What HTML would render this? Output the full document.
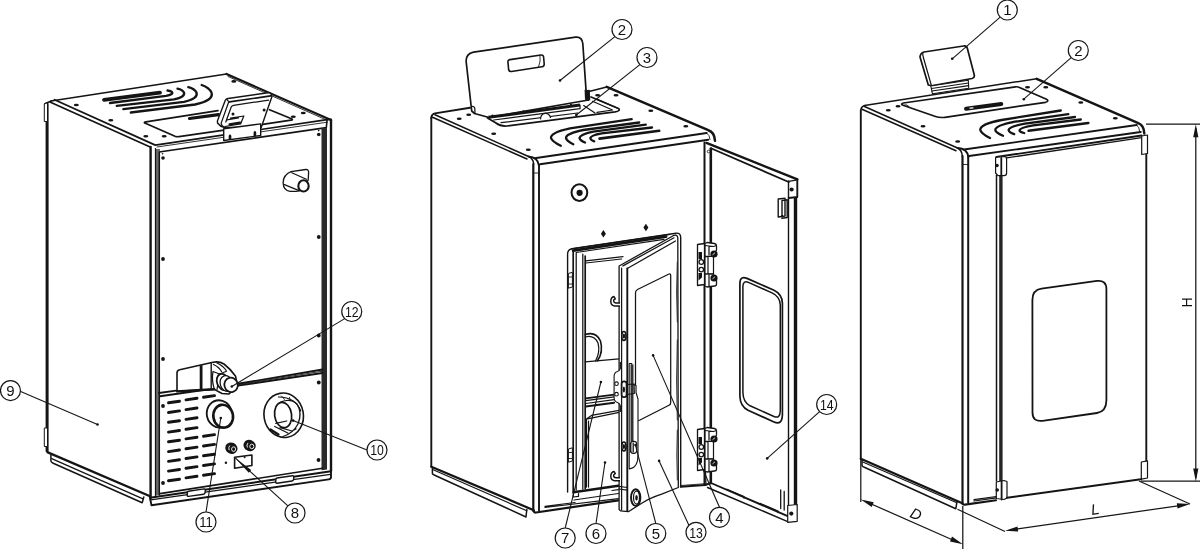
<!DOCTYPE html>
<html><head><meta charset="utf-8"><title>Parts diagram</title>
<style>
html,body{margin:0;padding:0;background:#fff;}
body{width:1200px;height:549px;overflow:hidden;}
svg{display:block;will-change:transform;}
.k{fill:none;stroke:#141414;stroke-width:1.9;stroke-linecap:round;stroke-linejoin:round;}
.m{fill:none;stroke:#141414;stroke-width:1.25;stroke-linecap:round;stroke-linejoin:round;}
.t{fill:none;stroke:#1c1c1c;stroke-width:.9;stroke-linecap:round;stroke-linejoin:round;}
.w{fill:#fff;stroke:#141414;stroke-width:1.4;stroke-linejoin:round;}
.b{fill:#141414;stroke:none;}
.v{fill:none;stroke:#141414;stroke-width:2.3;stroke-linecap:round;}
.s{fill:none;stroke:#141414;stroke-width:2.9;stroke-linecap:round;}
.bl circle{fill:#fff;stroke:#161616;stroke-width:1.2;}
.bl text,.dim text{font-family:"Liberation Sans",sans-serif;font-size:15px;fill:#111;text-anchor:middle;}
.ld{fill:none;stroke:#161616;stroke-width:1.1;}
</style></head>
<body>
<svg width="1200" height="549" viewBox="0 0 1200 549">
<rect width="1200" height="549" fill="#fff"/>

<!-- ================= FIG 1 ================= -->
<g id="fig1">
<!-- top plate -->
<path class="k" d="M51 101 L226.500 74" style="stroke-width:1.400"/>
<path class="k" d="M226.500 74 L331 120" style="stroke-width:2.200"/>
<path class="t" d="M228 76.500 L326 119.800"/>
<path class="k" d="M50.500 102.300 L149.600 146.800" style="stroke-width:1.700"/>
<path class="k" d="M54.500 99.700 L155.300 145.100 L327.100 119.700 L331 119.300" style="stroke-width:1.700"/>
<path class="t" d="M157 147 L327.100 122.200"/>
<path class="k" d="M157.400 152.300 L326.300 127.600 L327.100 119.700" style="stroke-width:1.600"/>
<!-- left side panel -->
<path class="k" d="M47.100 104 V451" style="stroke-width:3"/>
<path class="k" style="stroke-width:1.600" d="M44.800 103.700 L51.200 100.900"/>
<path class="w" style="stroke-width:1" d="M44.300 104 L47.500 102.800 V121.500 H44.300 Z M44.300 428 H47.500 V446.500 H44.300 Z"/>
<!-- front-left post -->
<path class="k" d="M150.600 147 V498" style="stroke-width:2.400"/>
<path d="M155 149 H160 V494.500 L155 495.500 Z" fill="#6a6a6a"/>
<path class="m" d="M155.500 148.500 V497"/>
<path class="k" d="M159.300 152 V495" style="stroke-width:1.500"/>
<!-- right post -->
<path class="k" d="M331 120 V471" style="stroke-width:2.400"/>
<path d="M321.500 128.500 L327 127.700 V469.500 L321.500 470.300 Z" fill="#2a2a2a"/>
<!-- side bottom + skirt -->
<path class="k" d="M47.800 452.400 L149.500 496" style="stroke-width:2.400"/>
<path class="k" d="M50.900 455 V461 Q51 462.300 53.200 463.300 L142.200 502.800 L143.800 497" style="stroke-width:1.500"/>
<path class="m" d="M51.700 458.600 L143 498.900"/>
<!-- base front -->
<path class="k" d="M149.900 497.700 L331 471.200 V476.500 Q331.300 479 328.700 479.400 L151.500 505.200 Z"/>
<path class="m" d="M150.700 499.900 L330.400 474.400"/>
<path class="k" style="stroke-width:1.600" d="M160 493.600 L322.500 468.300"/>
<path class="w" style="stroke-width:1.400" d="M188.500 491.200 L204 488.900 Q205.500 489 205.300 490.500 L205 492.800 Q204.800 494 203.500 494.200 L188.500 496.400 Q187 496.400 187.200 495 L187.400 492.500 Q187.500 491.400 188.500 491.200 Z M277 478 L292.500 475.700 Q294 475.800 293.800 477.300 L293.500 479.600 Q293.300 480.800 292 481 L277 483.200 Q275.500 483.200 275.700 481.800 L275.900 479.300 Q276 478.200 277 478 Z"/>
<!-- divider -->
<path class="k" d="M159 393 L176 390.600 M238 383.800 L322.5 369.500"/>
<path class="k" d="M160 396.300 L214 388.500 M238 385.600 L322.5 373"/>
<path class="t" d="M238 384.700 L322.5 371.200"/>

<!-- top plate details fig1 -->
<g class="b">
<ellipse cx="76.300" cy="105" rx="2.500" ry="1.300"/><ellipse cx="110.800" cy="120.300" rx="2.500" ry="1.300"/>
<ellipse cx="145.800" cy="136.200" rx="2.500" ry="1.300"/><ellipse cx="164.200" cy="136.200" rx="2.500" ry="1.300"/>
<ellipse cx="233.800" cy="81.400" rx="2.500" ry="1.300"/><ellipse cx="303.250" cy="113" rx="2.500" ry="1.300"/>
<ellipse cx="293.300" cy="116.700" rx="2.500" ry="1.300"/>
<circle cx="163" cy="158" r="1.800"/><circle cx="162.600" cy="153.800" r=".8"/>
<circle cx="318.750" cy="134.500" r="1.800"/><circle cx="318.700" cy="130.600" r=".8"/>
<circle cx="163" cy="259" r="1.900"/><circle cx="163" cy="359" r="1.900"/><circle cx="163" cy="406" r="1.900"/>
<circle cx="318.750" cy="335.500" r="1.900"/><circle cx="318.750" cy="382.500" r="1.900"/><circle cx="318.750" cy="237" r="1.900"/>
<circle cx="163" cy="483" r="1.900"/><circle cx="318.500" cy="460" r="1.900"/>
</g>
<!-- vent slots -->
<path class="v" d="M104 99.800 L160 92.700" style="stroke-width:3.800"/>
<path class="v" d="M110 103 L166 95.800 Q173.500 94.500 172 92 Q171 90.800 167.500 90.500"/>
<path class="v" d="M116.700 105.800 L174 99.300 Q185.500 97 184 92.500 Q182.500 89.800 177.500 88.700"/>
<path class="v" d="M123.300 109.200 L184 101.800 Q198.500 98.500 196.500 92.500 Q194.500 88.800 188.300 87.200"/>
<path class="v" d="M130.800 112.500 L195 104.500 Q214 100.500 211.500 92.500 Q209 87.500 201.700 85"/>
<!-- hopper lid -->
<path class="k" style="stroke-width:1.700" d="M146 121.800 L218 110.600 M144.800 123 Q143.600 122.200 146 121.800 M144.800 123 L175 136.300 Q176.700 137 179 136.600 L224 130.200 M261 124.700 L291 120.200 Q293.500 119.700 291.500 118.800 L269.500 109.700"/>
<path class="s" d="M189.500 118.500 L218.500 114.600" style="stroke-width:3.200"/>
<!-- display -->
<path class="w" d="M225.300 100.300 Q226 98.800 228 98.500 L268 92.800 Q272 92.600 271.800 97 L261.200 127.600 L224 127.200 Q220 126.500 218 123.500 Q217 122 217.600 120.500 Z" style="stroke-width:1.400"/>
<path class="k" d="M229.500 101.800 L270.700 95.900" style="stroke-width:1.700"/>
<path class="m" d="M226.900 99.500 Q228 101.500 229.500 101.800 M228.500 102.500 L221.100 123.400 Q221.500 125.500 223.700 127"/>
<path class="m" d="M225.800 122 L231.200 107 Q231.800 105.600 233.500 105.300 L268.600 100.100"/>
<path class="m" d="M230.600 118.100 L243.800 116 L240.600 123.900 L224.800 126.500 M226.900 119.900 L238.500 118"/>
<path class="s" d="M229.500 124.300 L240 122.600" style="stroke-width:2.200"/>
<circle class="b" cx="233" cy="113.900" r="1.500"/><circle class="b" cx="264.100" cy="109.900" r="1.500"/>
<!-- bracket -->
<path class="w" d="M223.700 128.700 L260.700 123.900 L260.700 135.500 L223.700 140.500 Z"/>
<path class="b" d="M230 134.300 q1.800 1 1.300 3 v2.200 h-2.600 v-2.200 q-.5 -2 1.300 -3 z M254.900 130.700 q1.800 1 1.300 3 v2.200 h-2.600 v-2.200 q-.5 -2 1.300 -3 z"/>
<!-- lower panel fig1 -->
<path class="s" d="M168.500 402.8 l11 -1.600 M186 399.9 l11 -1.600 M203.500 397.2 l11 -1.600 M168.500 412.5 l11 -1.600 M186 409.6 l11 -1.600 M168.500 422.3 l11 -1.600 M186 419.4 l11 -1.600 M168.500 432.1 l11 -1.600 M186 429.2 l11 -1.600 M168.500 441.8 l11 -1.600 M186 438.9 l11 -1.600 M203.500 436.2 l11 -1.600 M168.500 451.6 l11 -1.600 M186 448.7 l11 -1.600 M203.500 446.0 l11 -1.600 M168.500 461.4 l11 -1.600 M186 458.5 l11 -1.600 M203.500 455.8 l11 -1.600 M168.500 471.1 l11 -1.600 M186 468.2 l11 -1.600 M203.500 465.5 l11 -1.600 M168.500 480.8 l11 -1.600 M186 477.9 l11 -1.600 M203.500 475.2 l11 -1.600"/>
<!-- actuator box + valve -->
<path class="w" style="stroke-width:1.600" d="M177 391.200 V373 Q177 370.300 179.700 369.800 L213 362.300 Q219 361 224 364 Q230 368.500 235.600 376.300 L237.500 386 L229 394 L222 393.500 L214.300 389.400 Z"/>
<path class="k" d="M201.100 365.200 V390" style="stroke-width:2.800;stroke-linecap:butt"/>
<path class="k" d="M211.200 363 V389" style="stroke-width:1.400"/>
<path class="k" d="M177 391.400 L214.300 389.200" style="stroke-width:2.400"/>
<path class="m" d="M213.500 364.500 Q219 367 221.500 371.500 M217 363 Q223 365.500 226.500 371 M213 371.500 L219.500 374 L226 371.500 M219.500 374 L217 389.500 M213 371.500 Q211.500 380 214 388"/>
<ellipse class="w" cx="223" cy="382" rx="6" ry="8.300" transform="rotate(-20 223 382)" style="stroke-width:1.800"/>
<ellipse class="w" cx="226.500" cy="383.500" rx="6.300" ry="8" transform="rotate(-18 226.500 383.500)" style="stroke-width:1.300"/>
<ellipse class="w" cx="231.100" cy="384.900" rx="6.700" ry="7.300" transform="rotate(-15 231.100 384.900)" style="stroke-width:1.800"/>
<!-- circle 11 -->
<ellipse class="w" cx="219.300" cy="413.900" rx="12.500" ry="13.700" transform="rotate(-12 219.300 413.900)" style="stroke-width:1.800"/>
<ellipse class="w" cx="223.200" cy="416.200" rx="9.800" ry="11.500" transform="rotate(-10 223.200 416.200)" style="stroke-width:2.600"/>
<!-- circle 10 -->
<ellipse class="w" cx="283.700" cy="415.300" rx="19.700" ry="22.300" transform="rotate(-10 283.700 415.300)" style="stroke-width:1.600"/>
<path class="m" d="M278.500 397 Q296 397.500 300.700 411"/>
<ellipse class="w" cx="283.100" cy="415" rx="8.500" ry="12.700" transform="rotate(-8 283.100 415)" style="stroke-width:1.700"/>
<path class="m" d="M281 401.800 Q291 398 297 404 Q302.500 413 298 424 Q293 433.500 283 436.500 M275.800 423.300 L286.700 421 M274.700 426.500 L287.800 433 M280 427.600 L292 431 L296 429"/>
<path class="s" d="M270.500 429.500 L278.500 434.500" style="stroke-width:2.200"/>
<path class="t" d="M281.500 396 l3 3.500 M289.500 397.500 l.8 3"/>
<!-- fittings -->
<g><ellipse class="b" cx="231.4" cy="448.2" rx="6.200" ry="5.600" transform="rotate(25 231.4 448.2)"/><ellipse cx="233.6" cy="449.09999999999997" rx="2" ry="2.300" fill="none" stroke="#fff" stroke-width=".9"/><path d="M229.8 445.59999999999997 q-1.800 2 -.6 4.600" fill="none" stroke="#fff" stroke-width=".9"/><ellipse class="b" cx="249.6" cy="445.5" rx="6.200" ry="5.600" transform="rotate(25 249.6 445.5)"/><ellipse cx="251.79999999999998" cy="446.4" rx="2" ry="2.300" fill="none" stroke="#fff" stroke-width=".9"/><path d="M248.0 442.9 q-1.800 2 -.6 4.600" fill="none" stroke="#fff" stroke-width=".9"/></g>
<!-- plate 8 -->
<path class="k" style="stroke-width:1.600" d="M234.600 457.300 L251.900 455 V465.500 L234.600 468.200 Z"/>
<circle class="b" cx="225.900" cy="462.800" r="1.200"/><circle class="b" cx="244.600" cy="457.300" r="1"/>
<!-- pipe stub -->
<path class="w" d="M291.100 171.700 L305.700 169.500 Q308.800 169.300 308.600 172.400 L308.200 180 L299.500 190.800 Q295 191.600 290 191.400 Q283.500 190.500 283.100 183 Q283 175 291.100 171.700 Z" style="stroke-width:1.300"/>
<path class="m" d="M291.800 172.700 L306.400 179.300 M283.800 184.400 L299.100 190.600"/>
<ellipse cx="303.500" cy="185.900" rx="5.200" ry="5.600" fill="#fff" stroke="#141414" stroke-width="2.100"/>
</g>

<!-- ================= FIG 2 ================= -->
<g id="fig2">
<!-- open lid -->
<path class="w" d="M471.700 111 L466.200 62 Q465.500 54 473.500 52.200 L575.500 37.200 Q582 36.500 582.800 43.500 L586.500 97 L588.500 100 L489 117.500 L474.500 113.500 Z" style="stroke-width:1.700"/>
<path class="m" style="stroke-width:1.600" d="M508 62.500 Q507.500 60 510 59.600 L541 55 Q543.300 54.800 543.600 57 L544.200 64 Q544.300 66.300 542 66.700 L511.500 71.500 Q509 71.800 508.600 69.500 Z"/>
<path class="t" d="M540 55.200 Q541 61 538.500 67.200"/>
<path class="m" d="M471.700 106.500 Q474.500 106 474.800 108.500 L475 113.500 M585.200 90 L585.600 99 Q587.500 101 589.300 99 L588.800 90.500"/>
<!-- top plate -->
<path class="k" d="M431.300 118 Q431.300 114.400 435 113.400 L470 107.800"/>
<path class="k" d="M589 91.500 L606.700 86.900" style="stroke-width:1.500"/>
<path class="k" d="M606.700 86.900 L708.300 130.200 Q714.500 132 715 140.800" style="stroke-width:2.500"/>
<path class="k" d="M435 114.800 L528.500 156.500 Q533.300 158.500 533.700 164" style="stroke-width:1.500"/>
<path class="k" style="stroke-width:1.500" d="M432.500 117.200 L527 159"/>
<path class="t" d="M533.300 173 h5.700"/>
<path class="k" d="M528.500 156.500 Q538 157.500 538.700 165"/>
<path class="k" d="M534.500 158.200 L706.700 133"/>
<path class="k" d="M540 164.200 L708.300 139.700"/>
<path class="t" d="M706.700 133 Q710 135 710 139.500"/>
<!-- left edge, corner post, right post -->
<path class="k" d="M431.300 118 V466.500"/>
<path class="k" d="M533.300 164 V511" style="stroke-width:2.200"/>
<path class="k" d="M539 165 V510.500"/>
<path class="k" d="M704.500 142.500 V485" style="stroke-width:2"/>
<path class="k" d="M710.800 148.500 V483" style="stroke-width:2.600"/>
<!-- left skirt -->
<path class="k" d="M431.300 466.700 L533.800 510.200" style="stroke-width:2.300"/>
<path class="k" d="M432.400 468 V473.500 Q432.600 474.600 434.700 475.200 L526 517 L526.800 509.500" style="stroke-width:1.500"/>
<path class="m" d="M433.200 469.800 L526.800 510.800"/>
<!-- front bottom -->
<path class="k" d="M533.700 511 Q534 512.800 536 512.500 L618.300 500.300" style="stroke-width:2.200"/>
<path class="m" d="M545 507.500 L618.300 498.600 M545 506.300 L575 502.500"/>
<path class="k" d="M680.700 486.800 L705 485"/>
<path class="t" d="M681 485.500 L704 483.800"/>
<!-- screws on top -->
<g class="b">
<ellipse cx="459.200" cy="118.700" rx="2.500" ry="1.300"/><ellipse cx="468.700" cy="114.700" rx="2.500" ry="1.300"/>
<ellipse cx="493.700" cy="133.800" rx="2.500" ry="1.300"/><ellipse cx="528.300" cy="149.700" rx="2.500" ry="1.300"/>
<ellipse cx="597.600" cy="95.200" rx="2.500" ry="1.300"/><ellipse cx="616" cy="95.300" rx="2.500" ry="1.300"/>
<ellipse cx="650.800" cy="110.800" rx="2.500" ry="1.300"/><ellipse cx="685.800" cy="126.300" rx="2.500" ry="1.300"/>
</g>
<!-- hopper opening -->
<path class="s" d="M488.500 117.300 L580 105" style="stroke-width:3;stroke-linecap:butt"/>
<path class="k" style="stroke-width:1.700" d="M487.500 118 L496 123 Q500.500 126.600 507 126 L615 111.900 Q621 110.800 618.500 108.500 L591 97"/>
<path class="m" d="M493.700 120 L580 108.700 M501 122.700 L577.500 113 M580 105 V108.700 M583.700 105.600 L595 113 M592.500 101.300 L612.500 110 L597 112.400 M597.500 99.400 L617 108"/>
<path class="w" d="M540.600 119.400 A5 5.300 0 0 1 550.600 118" style="stroke-width:1.200"/>
<g class="b"><circle cx="492.500" cy="115.600" r="1.100"/><circle cx="523.500" cy="111.300" r="1.100"/><circle cx="540" cy="109" r="1.100"/><circle cx="571" cy="104.800" r="1.100"/></g>
<path class="k" d="M587.600 90 L588.300 100.500" style="stroke-width:4;stroke-linecap:butt"/>
<!-- vent (mirrored) -->
<path class="v" d="M560.800 145.800 Q552 141.500 551 138 Q550.500 132.500 570 128.300 L631.700 119.200"/>
<path class="v" d="M573.300 144.200 Q566.500 141 566 138 Q566 133.500 583.300 130 L639.200 122.500"/>
<path class="v" d="M585 142.500 Q580 140.500 579.500 138 Q580 134.500 593.300 131.700 L645.800 124.700"/>
<path class="v" d="M594.200 141.300 Q590.500 140 590.300 138 Q591 135.200 601.700 133.300 L652 127.500"/>
<path class="v" d="M599.500 138.600 L659.200 130.800" style="stroke-width:2.600"/>

<!-- firebox frame -->
<path class="k" d="M567.600 492 V254 Q567.600 249.700 572 248.800 L676 233.200 Q680.700 232.800 680.700 237.500 V486.800" style="stroke-width:1.400"/>
<path class="k" d="M573.200 491 V251" style="stroke-width:1.700"/>
<path class="k" d="M573.200 250.600 L666 236.600" style="stroke-width:2.800"/>
<path class="m" d="M571.500 248.900 L670 234.300 M576.200 252.500 V490 M576.200 252.500 L664 239.300"/>
<path class="k" d="M585.200 256 V488.500" style="stroke-width:1.700"/>
<path class="m" d="M582.800 254 V489"/>
<path class="m" d="M585.800 260.900 L623 256.600 M585.800 263 L621.500 259"/>
<!-- latches on left frame -->
<path class="w" d="M568.400 273.500 L572.400 272.300 V287 L568.400 288.200 Z M568.400 449 L572.400 447.800 V461 L568.400 462.200 Z" style="stroke-width:1"/>
<path class="t" d="M568.400 277 h4 M568.400 284 h4 M568.400 452.500 h4 M568.400 458.500 h4"/>
<!-- firebox inside -->
<path class="k" style="stroke-width:1.600" d="M585.200 334.500 Q596 331 600.500 341 Q603.500 352 597.500 360.800"/>
<path class="m" d="M585.200 337 Q594 334.500 598 343 Q600.500 352 595.500 361"/>
<path class="m" d="M585.200 361.900 L619.100 358.800"/>
<path class="k" d="M585.800 398.400 L614.100 394.600 M585.800 406.500 L614.100 402.700"/>
<path class="m" d="M585.800 400.700 L614.100 396.900 M585.800 403.500 L614.100 399.700"/>
<path class="m" d="M586.400 419.100 L591.500 415.400 L619.100 410.300 M586.400 419.100 V487 M586.400 419.100 L619.100 412.300"/>
<path class="m" d="M588.500 421 V487"/>
<!-- frame bottom -->
<path class="k" d="M573.300 492.300 L618.300 485.800" style="stroke-width:2.500"/>
<path class="m" d="M573.300 493.300 V497 L578.500 496.300 V493.500 M612 490.500 L618.300 489.700 M574 500 L618.300 493.500"/>
<!-- inner door 13 -->
<path class="w" d="M619.100 509.500 V266 L673.200 235.700 Q677.500 234 677.800 238 L678.300 487.500 L661.700 494.200 Q650 498 641.700 503.300 L628.300 511.700 L620.500 510.800 Z" style="stroke-width:1.300"/>
<path class="k" d="M627.300 268.500 V511"/>
<path class="m" d="M621.600 268 V510 M622.900 265.900 L674 237.800 M627.300 268.500 L675.500 241"/>
<path class="t" d="M677.300 262 q-1.400 30 0 60 M677.300 340 q-1.400 40 0 80 M677.300 430 q-1 25 0 50"/>
<path class="m" d="M619.100 486.300 L627.300 487.500 M619.100 489 L627.300 490.200"/>
<!-- glass -->
<path class="m" d="M635.500 293 Q635.300 290.600 637.500 289.500 L668.500 274.200 Q670.700 273.200 670.700 275.500 V402.500 Q670.700 404.500 669 405.300 L640 420 Q635.500 422 635.500 417 Z"/>
<!-- hooks -->
<path class="w" d="M620 305.9 H614.500 Q610.600 305.4 610.800 301.1 Q611 297.2 614 296.6 L615.300 298.8 Q613.400 299.6 613.600 301.2 Q614 303.0 616 302.9 H620" style="stroke-width:1.500"/>
<path class="w" d="M620 480.7 H614.500 Q610.600 480.2 610.800 475.9 Q611 472.0 614 471.4 L615.300 473.6 Q613.400 474.4 613.600 476.0 Q614 477.8 616 477.7 H620" style="stroke-width:1.500"/>
<!-- bolts -->
<ellipse class="w" cx="623.900" cy="335.900" rx="2.100" ry="4.400" style="stroke-width:1.700"/><ellipse class="b" cx="623.900" cy="336" rx="1.200" ry="2.500"/>
<ellipse class="w" cx="623.900" cy="446.400" rx="2.100" ry="4.400" style="stroke-width:1.700"/><ellipse class="b" cx="623.900" cy="446.500" rx="1.200" ry="2.500"/>
<!-- handle plate -->
<path class="w" d="M620.400 362 V368.500 Q620 370.500 617.500 371.500 Q614.300 372.500 614.100 376 V398 Q614.300 401.500 617.500 402.500 Q620 403.500 620.400 406 V412" style="stroke-width:1.100"/>
<circle class="w" cx="616.500" cy="383.700" r="1.800" style="stroke-width:1.100"/><circle class="w" cx="616.500" cy="394.200" r="1.800" style="stroke-width:1.100"/>
<rect class="w" x="621.600" y="381.400" width="5" height="15.700" rx="2.400" style="stroke-width:1.800"/><ellipse class="b" cx="623.900" cy="389.500" rx="1.100" ry="3"/>
<path class="w" d="M629.200 363.500 H631.800 V384 L636 385.500 V392.500 L638 399 V455 Q638 468 629.200 469 Z" style="stroke-width:1.100"/>
<path class="k" d="M632 364.500 V441.500" style="stroke-width:3;stroke-linecap:butt;stroke:#333"/>
<path class="m" d="M627.300 384.500 L634 384 L634.300 393.500 L627.300 394.500"/>
<rect class="w" x="630.400" y="441.400" width="6.300" height="12" rx="2.800" style="stroke-width:1.100"/>
<path class="t" d="M632 443 V452 M633.500 443 V452"/>
<!-- knob 5 lower -->
<ellipse class="w" cx="635.700" cy="497.600" rx="4.700" ry="8.300" style="stroke-width:1.900"/>
<ellipse class="m" cx="636.500" cy="497.500" rx="3" ry="6.500"/><ellipse class="b" cx="636.500" cy="497.700" rx="1.300" ry="2.800"/>
<!-- hinges -->
<g transform="translate(0 0)">
<path class="w" d="M697.500 244.500 L704.500 243.500 V284.500 L697.500 285.500 Z" style="stroke-width:1.300"/>
<path class="b" d="M698.500 252 h3.500 v7 h-3.500 z"/>
<circle class="w" cx="701.300" cy="262" r="2.300" style="stroke-width:1.300"/><circle class="w" cx="701.300" cy="269.600" r="2.300" style="stroke-width:1.300"/>
<path class="b" d="M698.500 273 h3.500 v4.500 l-3.500 3 z"/>
<path class="w" d="M705 243.500 L707 242.500 L714.500 243.500 Q716.500 244 716.500 246 V250 L713 256.500 H705 Z" style="stroke-width:1.300"/>
<path class="m" d="M705 245.500 L713.500 246.500 L716.500 245.500 M709 246 V255"/>
<path class="w" d="M708 256.500 H713.500 V274 H708 Z" style="stroke-width:1.200"/>
<path class="w" d="M705 274 H713 L716.500 280 V284 Q716.500 286 714.500 286 L707 287 L705 286 Z" style="stroke-width:1.300"/>
<path class="m" d="M709 275 V286"/>
<circle class="b" cx="714" cy="254" r="3.600"/><circle class="b" cx="714" cy="278" r="3.600"/>
<path d="M712.500 254.800 l2.500 -2" stroke="#fff" stroke-width=".8"/><path d="M712.500 278.800 l2.500 -2" stroke="#fff" stroke-width=".8"/>
</g><g transform="translate(0 185)">
<path class="w" d="M697.500 244.500 L704.500 243.500 V284.500 L697.500 285.500 Z" style="stroke-width:1.300"/>
<path class="b" d="M698.500 252 h3.500 v7 h-3.500 z"/>
<circle class="w" cx="701.300" cy="262" r="2.300" style="stroke-width:1.300"/><circle class="w" cx="701.300" cy="269.600" r="2.300" style="stroke-width:1.300"/>
<path class="b" d="M698.500 273 h3.500 v4.500 l-3.500 3 z"/>
<path class="w" d="M705 243.500 L707 242.500 L714.500 243.500 Q716.500 244 716.500 246 V250 L713 256.500 H705 Z" style="stroke-width:1.300"/>
<path class="m" d="M705 245.500 L713.500 246.500 L716.500 245.500 M709 246 V255"/>
<path class="w" d="M708 256.500 H713.500 V274 H708 Z" style="stroke-width:1.200"/>
<path class="w" d="M705 274 H713 L716.500 280 V284 Q716.500 286 714.500 286 L707 287 L705 286 Z" style="stroke-width:1.300"/>
<path class="m" d="M709 275 V286"/>
<circle class="b" cx="714" cy="254" r="3.600"/><circle class="b" cx="714" cy="278" r="3.600"/>
<path d="M712.500 254.800 l2.500 -2" stroke="#fff" stroke-width=".8"/><path d="M712.500 278.800 l2.500 -2" stroke="#fff" stroke-width=".8"/>
</g>
<path class="m" d="M705.500 471.500 L706 485 M711 472 V483"/>
<!-- door 14 -->
<path class="k" d="M706.400 142.900 L797.400 179.400" style="stroke-width:2.300"/>
<path class="m" d="M788.700 181.300 L797.400 179.800"/>
<path class="k" d="M711.500 148.500 L788.700 182"/>
<path class="k" d="M795.500 197 V505" style="stroke-width:3.400;stroke-linecap:butt"/>
<path class="k" d="M788.500 181 V505" style="stroke-width:1.400"/>
<path class="k" d="M797.300 179.300 V197 L788.700 198"/>
<circle class="b" cx="791.600" cy="189.500" r="2.100"/>
<path class="w" d="M778.200 199 L785 198.200 V216 L778.200 217 Z M782 200.500 L787.200 199.800 V217.500 L782 218.300 Z" style="stroke-width:1.400"/>
<circle class="w" cx="708.500" cy="151.500" r="1.300" style="stroke-width:.8"/>
<!-- door 14 window -->
<path class="k" d="M739.900 396.300 V283 Q740.200 275.500 747 278.400 L773.500 290 Q782 294 782.400 303 V415 Q782 425.500 774 422 L748 410.200 Q740.200 406.500 739.900 396.300 Z" style="stroke-width:1.700"/>
<path class="k" d="M742.900 392.500 V286 Q743.200 280 749 282.600 L772 292.900 Q780 296.500 780.300 305 V411 Q780 419 774 416.500 L750 405.800 Q743.200 402.500 742.900 392.500 Z" style="stroke-width:1.500"/>
<!-- door 14 bottom -->
<path class="k" d="M705 485 L711 483 L787.700 516.100"/>
<path class="k" d="M707.500 487.500 L787.700 521.600" style="stroke-width:1.500"/>
<path class="m" d="M727 489.200 L744 496.500 V498 M760 503.400 L778 511 V512.600"/>
<path class="w" d="M787.700 505.500 L797.200 504.500 V521.300 L787.700 522.300 Z" style="stroke-width:1.200"/>
<circle class="b" cx="791.300" cy="513.600" r="2.100"/>
<path class="k" d="M780.700 490 V508.500 M784.200 491.500 V510" style="stroke-width:1.300"/>
<!-- knob -->
<ellipse class="w" cx="579.400" cy="192.600" rx="7.900" ry="8.300" style="stroke-width:2"/><circle class="b" cx="579.600" cy="192.800" r="3.100"/>
<!-- diamonds -->
<path class="b" d="M603.400 230 l2.500 3.700 l-2.500 3.700 l-2.500 -3.700 z M645.900 223.800 l2.500 3.700 l-2.500 3.700 l-2.500 -3.700 z"/>
</g>

<!-- ================= FIG 3 ================= -->
<g id="fig3">
<!-- display -->
<path class="w" d="M920 57 Q920.300 53 924 52 L963.500 46 Q967 45.600 967.500 49 L974.300 75 Q974.800 77.800 972 78.500 L931.500 85.800 L928.300 85 Z" style="stroke-width:1.700"/>
<path class="m" d="M922.800 53 Q922.500 55 923.500 58 L931.500 85.800"/>
<path class="w" d="M930.800 86 L968.300 80.200 L968.700 88.300 L932.500 93.800 Z" style="stroke-width:1.100"/>
<path class="m" d="M931.500 88.500 L968.400 83 M932 91 L968.600 85.600"/>
<!-- top plate -->
<path class="k" d="M860.800 110.500 Q860.800 107 864.500 105.500 L1036.700 78.700" style="stroke-width:1.500"/>
<path class="k" d="M1036.700 78.900 L1138.300 123.200 Q1144 125.500 1144.300 133.500" style="stroke-width:2.500"/>
<path class="k" d="M864.500 106.500 L957.500 148 Q962 150 962.200 156" style="stroke-width:1.500"/>
<path class="k" style="stroke-width:1.500" d="M862 109.200 L956 150.700"/>
<path class="k" d="M957.500 148 Q967.500 148.500 968.300 157"/>
<path class="k" d="M964 149.500 L1136.700 125"/>
<path class="k" d="M969 156 L1140.800 132"/>
<path class="t" d="M1136.700 125 Q1139.500 127 1139.800 132"/>
<path class="t" d="M962.200 164.500 h6"/>
<!-- verticals -->
<path class="k" d="M860.800 110.500 V458.500"/>
<path class="k" d="M962.500 156 V503.500" style="stroke-width:2.200"/>
<path class="k" d="M968.200 157 V502.500" style="stroke-width:2"/>
<path class="k" d="M1146.300 154 V461"/>
<!-- door -->
<path class="k" d="M996.300 157 L1141.700 135.500" style="stroke-width:1.900"/>
<path class="m" d="M1002 158.600 L1141.700 137.700"/>
<path class="k" d="M996.500 175 V481" style="stroke-width:1.500"/>
<path class="k" d="M1000.900 176 V481" style="stroke-width:3.400;stroke-linecap:butt;stroke:#262626"/>
<path class="w" d="M995.600 157.500 L1004 156.500 Q1006.600 156.500 1006.600 159 V173 Q1006.600 175.600 1004 175.600 L998 175.600 L995.600 173 Z" style="stroke-width:1.200"/>
<path class="k" style="stroke-width:1.800" d="M1001.300 158 V175"/><circle class="b" cx="997" cy="165.500" r="1.800"/>
<path class="w" d="M1141.700 136 L1147.500 135 V153.500 L1141.700 154.500 Z" style="stroke-width:1.200"/>
<path class="w" d="M996.300 482 L1004 480.500 L1007 481.500 V498 L1004 499.500 L996.300 498.500 Z" style="stroke-width:1.200"/>
<path class="k" style="stroke-width:1.800" d="M1001.600 481.500 V499.500"/><circle class="b" cx="997.200" cy="490" r="1.800"/>
<path class="w" d="M1141.300 462 L1147.500 460.800 V478 L1141.300 479.200 Z" style="stroke-width:1.200"/>
<!-- window -->
<path class="k" d="M1032.400 300 Q1032.400 290 1041.500 288.700 L1097 280.900 Q1106.400 280 1106.400 289 V400.500 Q1106.200 411.500 1097 413 L1042.500 420.800 Q1032.500 422 1032.500 412.500 Z" style="stroke-width:1.800"/>
<!-- bottom -->
<path class="k" d="M860.800 458.700 L962.300 503.300" style="stroke-width:2.300"/>
<path class="k" d="M862 460 V465.500 Q862.200 466.600 864.300 467.300 L955.800 508.800 L957 501.500" style="stroke-width:1.500"/>
<path class="m" d="M862.800 462 L956.800 502.800"/>
<path class="k" d="M962.300 503.500 Q963 505 965 504.600 L996 500.200 M1007 497.800 L1141 479.300" style="stroke-width:2.100"/>
<path class="m" d="M974 501 L996.300 497.800 M974 499.600 L996.300 496.500"/>
<!-- hopper lid -->
<path class="k" style="stroke-width:1.700" d="M903.500 103 L1015.500 86.800 Q1017.500 86.500 1019.500 87.500 L1046.500 99.300 Q1049.500 101 1045.500 102.300 L945 117.300 Q940 118 935.500 116.500 L903 105.300 Q900 104 903.500 103 Z"/>
<path class="t" d="M903 105.300 L906.500 104.800 L909 106.500"/>
<path class="s" d="M966 108.700 L1001.300 104" style="stroke-width:4"/>
<path d="M970 108.200 l3 -.4" stroke="#fff" stroke-width="1.200" stroke-linecap="round"/>
<!-- screws -->
<g class="b">
<ellipse cx="888.300" cy="110.300" rx="2.500" ry="1.300"/><ellipse cx="898" cy="106.300" rx="2.500" ry="1.300"/>
<ellipse cx="923" cy="126.300" rx="2.500" ry="1.300"/><ellipse cx="957.700" cy="141.500" rx="2.500" ry="1.300"/>
<ellipse cx="1027.500" cy="87.200" rx="2.500" ry="1.300"/><ellipse cx="1045.800" cy="87.200" rx="2.500" ry="1.300"/>
<ellipse cx="1080.800" cy="102.500" rx="2.500" ry="1.300"/><ellipse cx="1115.300" cy="118.300" rx="2.500" ry="1.300"/>
</g>
<!-- vent -->
<path class="v" d="M990 138 Q981 133.500 980.300 130 Q980 124 1001.700 120 L1060.800 110.500"/>
<path class="v" d="M1003 135.800 Q995.800 132.800 995.300 130 Q995.500 125.500 1015 121.700 L1068.300 114.200"/>
<path class="v" d="M1014.200 134.200 Q1009 132.500 1008.600 130 Q1009 126.500 1025 123.700 L1075 117"/>
<path class="v" d="M1024.200 133 Q1019.700 132 1019.500 130.300 Q1020 127.500 1033.300 125.300 L1080.800 119.500"/>
<path class="v" d="M1028.600 130.800 L1088.300 123" style="stroke-width:2.600"/>
</g>

<!-- ================= BALLOONS ================= -->
<g class="bl">
<path class="ld" d="M1000.2 17.1 L952.2 58.8"/>
<circle cx="952.2" cy="58.8" r="1.3" style="fill:#141414;stroke:none"/>
<circle cx="1007.3" cy="10" r="10"/>
<text x="1007.3" y="15.3">1</text>
<path class="ld" d="M1071.2 57.6 L1023.8 99.2"/>
<circle cx="1023.8" cy="99.2" r="1.3" style="fill:#141414;stroke:none"/>
<circle cx="1078.3" cy="50.5" r="10"/>
<text x="1078.3" y="55.8">2</text>
<path class="ld" d="M614.9 36.6 L560.0 80.5"/>
<circle cx="560.0" cy="80.5" r="1.3" style="fill:#141414;stroke:none"/>
<circle cx="622" cy="29.5" r="10"/>
<text x="622" y="34.8">2</text>
<path class="ld" d="M639.9 64.6 L576.3 115.0"/>
<circle cx="576.3" cy="115.0" r="1.3" style="fill:#141414;stroke:none"/>
<circle cx="647" cy="57.5" r="10"/>
<text x="647" y="62.8">3</text>
<path class="ld" d="M719.5 507.3 L653.1 355.4"/>
<circle cx="653.1" cy="355.4" r="1.3" style="fill:#141414;stroke:none"/>
<circle cx="719.5" cy="517.3" r="10"/>
<text x="719.5" y="522.6">4</text>
<path class="ld" d="M655.8 523.5 L635.5 445.1"/>
<circle cx="635.5" cy="445.1" r="1.3" style="fill:#141414;stroke:none"/>
<circle cx="655.8" cy="533.5" r="10"/>
<text x="655.8" y="538.8">5</text>
<path class="ld" d="M596.0 523.5 L605.0 462.5"/>
<circle cx="605.0" cy="462.5" r="1.3" style="fill:#141414;stroke:none"/>
<circle cx="596" cy="533.5" r="10"/>
<text x="596" y="538.8">6</text>
<path class="ld" d="M565.2 528.0 L600.9 382.0"/>
<circle cx="600.9" cy="382.0" r="1.3" style="fill:#141414;stroke:none"/>
<circle cx="565.2" cy="538" r="10"/>
<text x="565.2" y="543.3">7</text>
<path class="ld" d="M287.9 505.9 L235.2 457.9"/>
<path class="b" d="M235.2 457.9 L251.2 470.0 L248.8 472.7 Z"/>
<circle cx="295" cy="513" r="10"/>
<text x="295" y="518.3">8</text>
<path class="ld" d="M19.5 391.0 L97.5 424.5"/>
<circle cx="97.5" cy="424.5" r="1.3" style="fill:#141414;stroke:none"/>
<circle cx="10.500" cy="390.600" r="10"/>
<text x="10.500" y="395.900">9</text>
<path class="ld" d="M367.0 450.0 L293.1 420.6"/>
<circle cx="293.1" cy="420.6" r="1.3" style="fill:#141414;stroke:none"/>
<circle cx="377" cy="450" r="10"/>
<text x="377" y="455.3" textLength="13.600" lengthAdjust="spacingAndGlyphs">10</text>
<path class="ld" d="M206.0 512.0 L220.8 418.0"/>
<circle cx="220.8" cy="418.0" r="1.3" style="fill:#141414;stroke:none"/>
<circle cx="206" cy="522" r="10"/>
<text x="206" y="527.3" textLength="13.600" lengthAdjust="spacingAndGlyphs">11</text>
<path class="ld" d="M344.7 318.6 L231.8 386.5"/>
<circle cx="231.8" cy="386.5" r="1.3" style="fill:#141414;stroke:none"/>
<circle cx="351.75" cy="311.5" r="10"/>
<text x="351.75" y="316.8" textLength="13.600" lengthAdjust="spacingAndGlyphs">12</text>
<path class="ld" d="M688.9 525.2 L659.1 460.9"/>
<circle cx="659.1" cy="460.9" r="1.3" style="fill:#141414;stroke:none"/>
<circle cx="696" cy="532.3" r="10"/>
<text x="696" y="537.6" textLength="13.600" lengthAdjust="spacingAndGlyphs">13</text>
<path class="ld" d="M819.6 411.6 L767.2 458.4"/>
<circle cx="767.2" cy="458.4" r="1.3" style="fill:#141414;stroke:none"/>
<circle cx="826.7" cy="404.5" r="10"/>
<text x="826.7" y="409.8" textLength="13.600" lengthAdjust="spacingAndGlyphs">14</text>
</g>
<!-- ================= DIMENSIONS ================= -->
<g class="dim">
<path class="ld" style="stroke-width:1.250" d="M1146 124 H1200 M1141 481.200 H1200 M1195.800 128 V478"/>
<path class="b" d="M1195.8 124.3 L1198.4 137.3 L1193.2 137.3 Z M1195.8 481.5 L1193.2 468.5 L1198.4 468.5 Z"/>
<text transform="translate(1191.500 302.500) rotate(-90)" style="font-size:14px">H</text>
<path class="ld" style="stroke-width:1.250" d="M957.500 509.300 L1005 531.500 M1139 481 L1190 504 M1010 530.100 L1185 504.800"/>
<path class="b" d="M1005.0 530.8 L1017.5 526.4 L1018.2 531.5 Z M1190.0 504.0 L1177.5 508.4 L1176.8 503.3 Z"/>
<text transform="translate(1096 514.500) rotate(-8)" style="font-size:15px;font-style:italic">L</text>
<path class="ld" style="stroke-width:1.250" d="M860.800 459 V502 M962.800 506 V549 M865 501.200 L958.500 542.500"/>
<path class="b" d="M860.8 499.4 L873.7 502.2 L871.7 507.0 Z M962.9 544.2 L950.0 541.4 L952.0 536.6 Z"/>
<text transform="translate(914 519) rotate(23.500)" style="font-size:15px;font-style:italic">D</text>
</g>

</svg>
</body></html>
